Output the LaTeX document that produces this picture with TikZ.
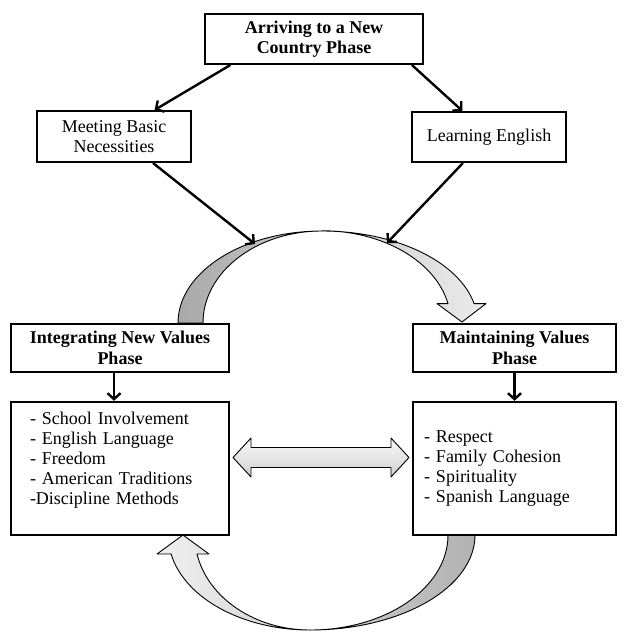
\documentclass[tikz,border=0pt]{standalone}
\usepackage{fontspec}
\setmainfont{Liberation Serif}
\usetikzlibrary{arrows.meta,calc}
\begin{document}
\begin{tikzpicture}[x=1pt,y=1pt,
  box/.style={draw, fill=white, line width=2.4pt, align=center, inner sep=0pt,
    font=\fontsize{18}{20.5}\selectfont},
  phase/.style={box, font=\fontsize{18}{20.5}\selectfont\bfseries},
  listbox/.style={draw, fill=white, line width=2.4pt, align=left, inner ysep=0pt,
    minimum height=133pt, font=\fontsize{18}{20}\selectfont},
  link/.style={line width=2.4pt, -{Straight Barb[length=6pt,width=13pt,line width=2.4pt]}},
  band/.style={draw=black, line width=0.9pt, line join=round},
]
\useasboundingbox (0,0) rectangle (625,-632);

% upper cycle arrow: back ribbon, then front ribbon with head
\path[band, left color=black!34, right color=black!20]
  (178,-323) arc[start angle=180, end angle=90, x radius=144, y radius=92]
  arc[start angle=90, end angle=180, x radius=119, y radius=92] -- cycle;
\path[band, left color=black!20, right color=black!8]
  (322,-231) arc[start angle=90, end angle=12.2, x radius=155.6, y radius=92]
  -- (486,-303.6) -- (462,-322) -- (437,-303.6) -- (448,-303.6)
  arc[start angle=12.0, end angle=90, x radius=128.8, y radius=92] -- cycle;

% lower cycle arrow: back ribbon, then front ribbon with head
\path[band, left color=black!20, right color=black!30]
  (475,-535) arc[start angle=0, end angle=-90, x radius=165, y radius=95]
  arc[start angle=-90, end angle=0, x radius=138, y radius=95] -- cycle;
\path[band, left color=black!6, right color=black!18]
  (310,-630) arc[start angle=-90, end angle=-168.5, x radius=141.8, y radius=95]
  -- (157,-554) -- (183,-535) -- (209,-554) -- (197,-554)
  arc[start angle=-168.46, end angle=-90, x radius=115.3, y radius=95] -- cycle;

% boxes
\node[phase, minimum width=217.6pt, minimum height=49.6pt] (arrive) at (314,-39)
  {Arriving to a New\\Country Phase};
\node[box, minimum width=153.6pt, minimum height=50.6pt] (basic) at (114,-136.5)
  {Meeting Basic\\Necessities};
\node[box, minimum width=153.6pt, minimum height=49.6pt] (english) at (489,-137)
  {Learning English};
\node[phase, minimum width=217.6pt, minimum height=47.6pt] (integ) at (120,-348)
  {Integrating New Values\\Phase};
\node[phase, minimum width=202.6pt, minimum height=47.6pt] (maint) at (514.5,-348)
  {Maintaining Values\\Phase};
\node[listbox, text width=180pt, inner xsep=18.8pt] (listL) at (120,-468.5)
  {- School Involvement\\- English Language\\- Freedom\\- American Traditions\\-Discipline Methods\\\mbox{}};
\node[listbox, text width=181pt, inner xsep=10.8pt] (listR) at (514.5,-468.5)
  {- Respect\\- Family Cohesion\\- Spirituality\\- Spanish Language};

% connectors
\coordinate (tipA) at (255,-244);
\coordinate (tipB) at (387,-243);
\draw[link] ($(arrive.south west)!0.12!(arrive.south east)$)
  -- ($(basic.north west)!0.76!(basic.north east)$);
\draw[link] ($(arrive.south west)!0.945!(arrive.south east)$)
  -- ($(english.north west)!0.33!(english.north east)$);
\draw[link] ($(basic.south west)!0.75!(basic.south east)$) -- (tipA);
\draw[link] ($(english.south west)!0.333!(english.south east)$) -- (tipB);
\draw[link] ([xshift=-6pt]integ.south) -- ([xshift=-6pt]listL.north);
\draw[link] (maint.south) -- (listR.north);

% two-way block arrow between the lists
\coordinate (sL) at ($(listL.east)+(3,11)$);
\coordinate (sR) at ($(listR.west)+(-3,11)$);
\path[band, top color=black!3, bottom color=black!18]
  (sL) -- ++(18,19.5) -- ++(0,-9.5) -- ($(sR)+(-18,10)$) -- ++(0,9.5) -- (sR)
  -- ++(-18,-19.5) -- ++(0,9.5) -- ($(sL)+(18,-10)$) -- ++(0,-9.5) -- cycle;
\end{tikzpicture}
\end{document}
